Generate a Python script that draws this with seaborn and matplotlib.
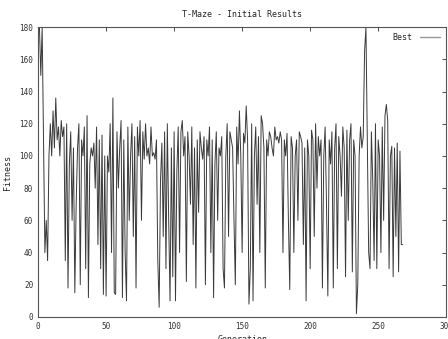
import matplotlib
matplotlib.use("Agg")
from matplotlib import pyplot as plt
import pandas as pd
import seaborn as sns

# best fitness per generation
best = [
    180, 180, 150, 180, 110, 40, 60, 35, 100, 120,
    100, 128, 105, 136, 110, 118, 100, 122, 112, 118,
    35, 120, 18, 95, 115, 60, 105, 15, 70, 105,
    120, 20, 110, 100, 118, 30, 125, 12, 95, 105,
    100, 108, 80, 118, 45, 110, 30, 113, 14, 100,
    13, 100, 90, 120, 40, 136, 15, 14, 115, 80,
    105, 122, 12, 110, 40, 10, 118, 60, 100, 120,
    50, 112, 18, 118, 100, 122, 60, 115, 98, 120,
    100, 105, 95, 118, 100, 102, 98, 110, 35, 6,
    85, 108, 50, 115, 30, 120, 60, 10, 105, 25,
    115, 10, 90, 118, 40, 115, 122, 100, 112, 22,
    115, 100, 70, 118, 45, 105, 18, 110, 65, 115,
    105, 98, 112, 20, 110, 100, 118, 40, 110, 12,
    95, 115, 60, 105, 100, 112, 30, 18, 100, 120,
    50, 115, 110, 105, 60, 20, 118, 95, 128, 100,
    40, 114, 108, 131, 110, 8, 30, 120, 10, 100,
    118, 70, 112, 40, 125, 120, 105, 18, 110, 100,
    115, 112, 105, 100, 118, 110, 112, 108, 115, 110,
    40, 110, 100, 114, 60, 17, 112, 105, 40, 100,
    110, 60, 115, 112, 108, 45, 105, 10, 110, 100,
    30, 116, 110, 50, 120, 80, 112, 100, 110, 18,
    100, 118, 70, 13, 110, 95, 115, 18, 105, 120,
    30, 112, 100, 75, 118, 105, 25, 116, 60, 110,
    120, 28, 110, 100, 2, 20, 100, 118, 105, 112,
    165, 180, 110, 40, 30, 115, 85, 35, 120, 30,
    110, 100, 40, 118, 60, 125, 132, 122, 30, 100,
    106, 25, 105, 50, 108, 28, 103, 45, 45,
]
generation = list(range(len(best)))

df = pd.DataFrame({"Generation": generation, "Fitness": best})

sns.set_style("white")
plt.rcParams["font.family"] = ["DejaVu Sans Mono"]

fig = plt.figure(figsize=(4.48, 3.39), dpi=100)
ax = fig.add_axes([0.085, 0.065, 0.911, 0.855])
sns.lineplot(data=df, x="Generation", y="Fitness", ax=ax, color="#3a3a3a",
             linewidth=0.7, label="Best")

ax.set_xlim(0, 300)
ax.set_ylim(0, 180)
ax.set_xticks(range(0, 301, 50))
ax.set_yticks(range(0, 181, 20))
ax.tick_params(direction="in", top=True, right=True, labelsize=5.5,
               length=3, width=0.6, colors="#333333")
for s in ax.spines.values():
    s.set_linewidth(0.8)
    s.set_color("#555555")

ax.set_title("T-Maze - Initial Results", fontsize=6, pad=7)
ax.set_xlabel("Generation", fontsize=6, labelpad=3)
ax.set_ylabel("Fitness", fontsize=6, labelpad=5)

leg = ax.legend(loc="upper right", frameon=False, fontsize=6, markerfirst=False,
                handlelength=2.5, borderaxespad=0.3)
for line in leg.get_lines():
    line.set_color("#999999")
    line.set_linewidth(1.0)

fig.savefig("out.png", dpi=100)
